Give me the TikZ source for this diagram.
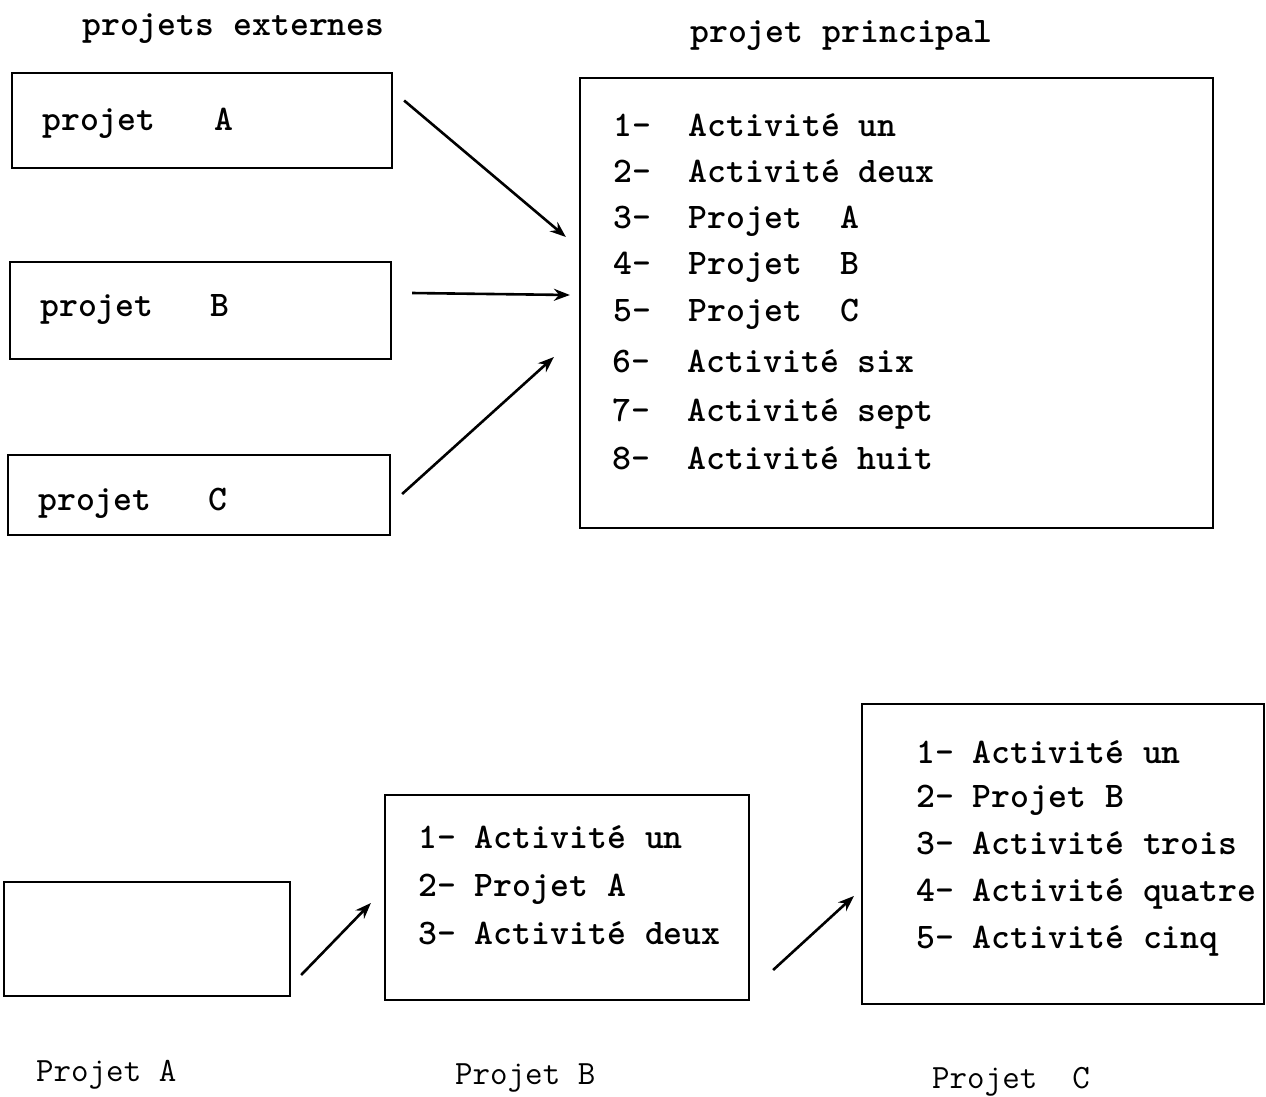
\documentclass[tikz,border=0pt]{standalone}
\usetikzlibrary{arrows.meta}
\begin{document}
\begin{tikzpicture}[x=1pt,y=-1pt,
  box/.style={draw,line width=2.2pt,inner sep=0pt},
  tw/.style={font=\fontsize{36}{40}\selectfont\ttfamily\bfseries,anchor=mid west,inner sep=0pt,yshift=-8pt},
  captxt/.style={font=\fontsize{34}{40}\selectfont\ttfamily,anchor=mid west,inner sep=0pt,yshift=-7pt},
  arr/.style={line width=2.6pt,-{Stealth[length=16pt,width=12pt]}}]
\useasboundingbox (0,0) rectangle (1266,1096);
% titles
\node[tw] (t1) at (82,25) {projets externes};
\node[tw] (t2) at (690,32) {projet principal};
% left boxes
\node[box,minimum width=380pt,minimum height=95pt] (pA) at (202,120.5) {};
\node[box,minimum width=381pt,minimum height=97pt] (pB) at (200.5,310.5) {};
\node[box,minimum width=382pt,minimum height=80pt] (pC) at (199,495) {};
\node[tw] (pAt) at (42,120) {projet\ \ \ \kern2pt A};
\node[tw] (pBt) at (40,306) {projet\ \ \ B};
\node[tw] (pCt) at (38,500) {projet\ \ \ C};
% main box
\node[box,minimum width=633pt,minimum height=450pt] (main) at (896.5,303) {};
\node[tw] (m1) at (613,126) {1-\ \ Activité un};
\node[tw] (m2) at (613,172) {2-\ \ Activité deux};
\node[tw] (m3) at (613,218) {3-\ \ Projet\ \ A};
\node[tw] (m4) at (613,264) {4-\ \ Projet\ \ B};
\node[tw] (m5) at (613,311) {5-\ \ Projet\ \ C};
\node[tw] (m6) at (612,362) {6-\ \ Activité six};
\node[tw] (m7) at (612,411) {7-\ \ Activité sept};
\node[tw] (m8) at (612,459) {8-\ \ Activité huit};
% top arrows
\draw[arr] ([xshift=11pt,yshift=20pt]pA.east) -- ([xshift=-13pt,yshift=66pt]main.west);
\draw[arr] ([xshift=20pt,yshift=17.5pt]pB.east) -- ([xshift=-9pt,yshift=8pt]main.west);
\draw[arr] ([xshift=11pt,yshift=1pt]pC.east) -- ([xshift=-25pt,yshift=-54pt]main.west);
% bottom boxes
\node[box,minimum width=286pt,minimum height=114pt] (qA) at (147,939) {};
\node[box,minimum width=364pt,minimum height=205pt] (qB) at (567,897.5) {};
\node[box,minimum width=402pt,minimum height=300pt] (qC) at (1063,854) {};
\node[tw] (b1) at (418,838) {1- Activité un};
\node[tw] (b2) at (418,886) {2- Projet A};
\node[tw] (b3) at (418,934) {3- Activité deux};
\node[tw] (c1) at (916,753) {1- Activité un};
\node[tw] (c2) at (916,797) {2- Projet B};
\node[tw] (c3) at (916,844) {3- Activité trois};
\node[tw] (c4) at (916,891) {4- Activité quatre};
\node[tw] (c5) at (916,938) {5- Activité cinq};
% bottom arrows
\draw[arr] ([xshift=10pt,yshift=-36pt]qA.east) -- ([xshift=-13pt,yshift=-5.5pt]qB.west);
\draw[arr] ([xshift=23pt,yshift=-72.5pt]qB.east) -- ([xshift=-7pt,yshift=-42pt]qC.west);
% captions
\node[captxt] (k1) at (36,1072) {Projet A};
\node[captxt] (k2) at (455,1075) {Projet B};
\node[captxt] (k3) at (932,1079) {Projet\ \ C};
\end{tikzpicture}
\end{document}
